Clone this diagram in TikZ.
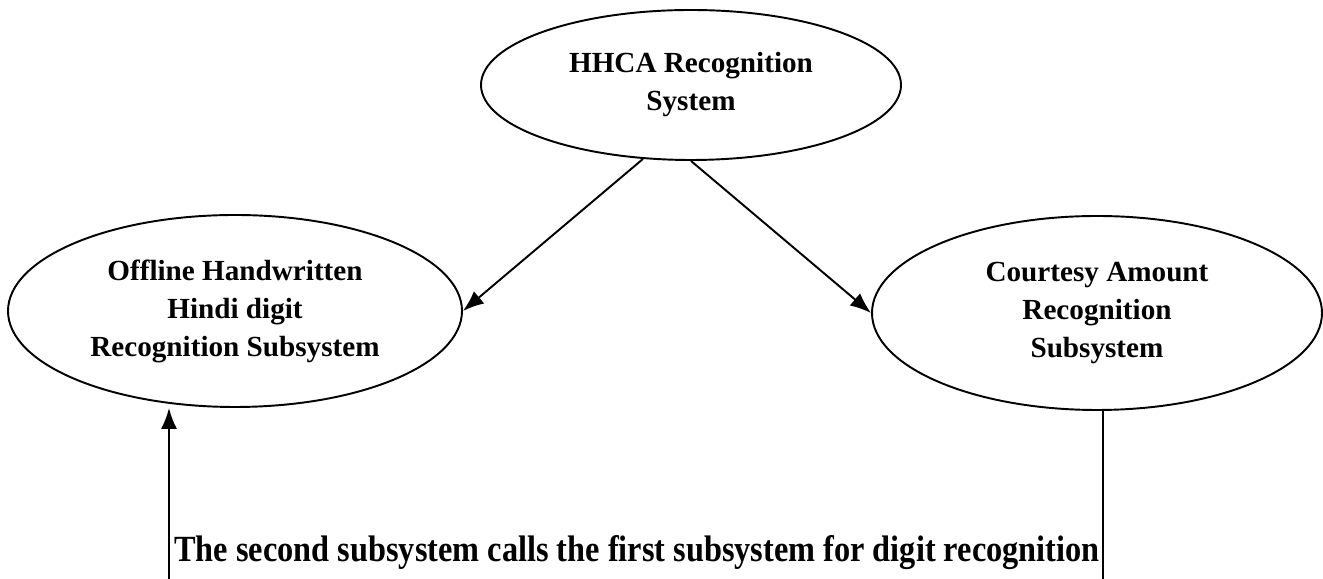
\documentclass[tikz,border=0pt]{standalone}
\usepackage{fontspec}
\setmainfont{Liberation Serif}
\usetikzlibrary{shapes.geometric,arrows.meta}

\begin{document}
\begin{tikzpicture}[
    sys/.style={ellipse, draw, line width=1.1pt, inner sep=0pt, align=center,
                font=\fontsize{16.6}{21.6}\selectfont\bfseries},
    link/.style={line width=1.1pt, -{Latex[length=4.2mm,width=3.2mm]}}
  ]
    \useasboundingbox (0,0) rectangle (26.46,11.58);

    % the three systems
    \node[sys, minimum width=8.4cm, minimum height=3.0cm] (hhca) at (13.82,9.88)
        {HHCA Recognition\\System};
    \node[sys, minimum width=9.08cm, minimum height=3.84cm] (hindi) at (4.70,5.36)
        {Offline Handwritten\\Hindi digit\\Recognition Subsystem};
    \node[sys, minimum width=9.0cm, minimum height=3.88cm] (courtesy) at (21.94,5.32)
        {Courtesy Amount\\Recognition\\Subsystem};

    \draw[link] (hhca.237) -- (hindi.east);
    \draw[link] (hhca.south) -- (courtesy.west);

    % call from the second subsystem back to the first
    \coordinate (callin) at (3.38,0);
    \coordinate (callout) at (22.06,0);
    \draw[link] (callin) -- (callin |- hindi.south);
    \draw[line width=1.1pt] (callout |- courtesy.south) -- (callout);
    \node[anchor=base, xscale=0.876, font=\fontsize{21}{25}\selectfont\bfseries] (note) at (12.74,0.34)
        {The second subsystem calls the first subsystem for digit recognition};
\end{tikzpicture}
\end{document}
